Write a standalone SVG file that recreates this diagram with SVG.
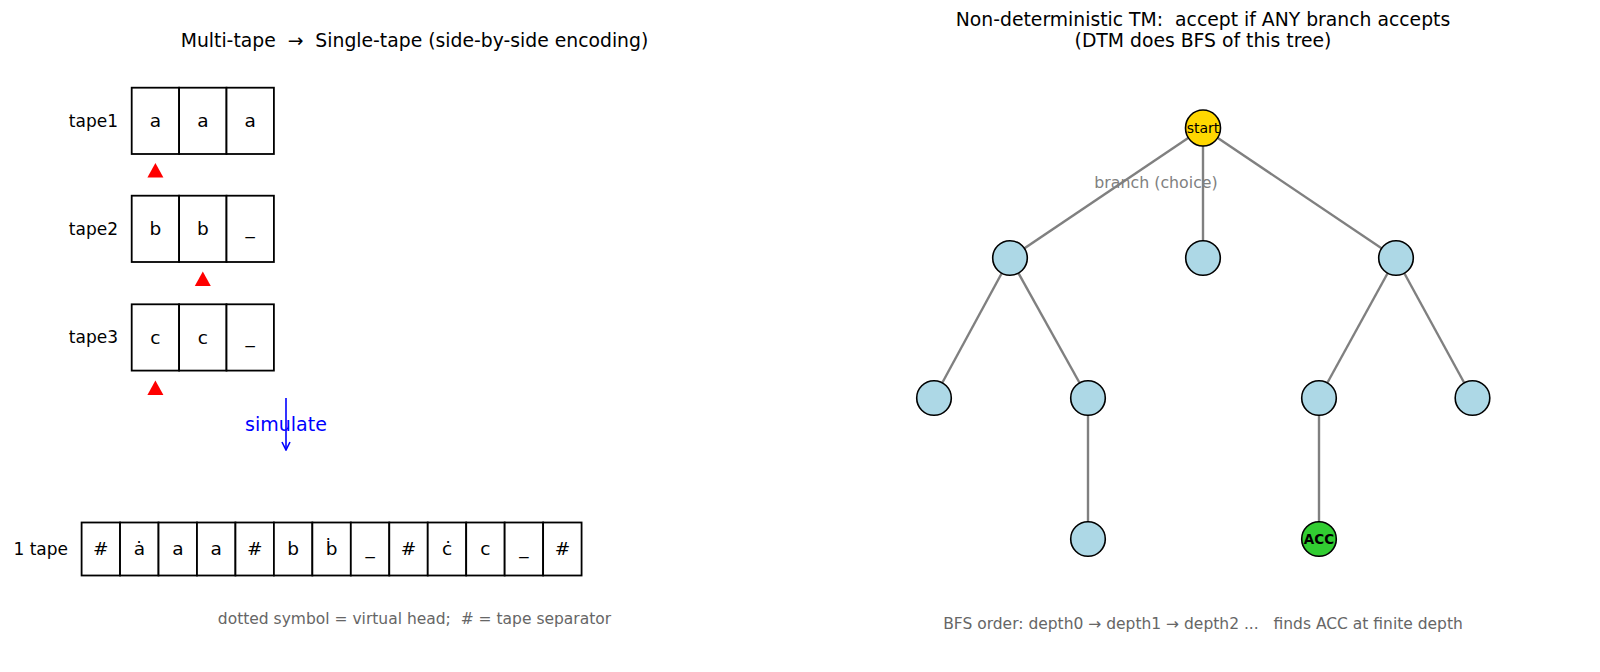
<svg xmlns="http://www.w3.org/2000/svg" width="1600" height="672" viewBox="0 0 1600 672" xml:space="preserve">
<defs>
<style>
text{font-family:"DejaVu Sans","Liberation Sans",sans-serif;white-space:pre;}
.title{font-size:18.8px;fill:#000;text-anchor:middle;}
.lbl{font-size:17px;fill:#000;text-anchor:end;}
.cell{fill:#fff;stroke:#000;stroke-width:1.8;}
.sym{font-size:18.5px;fill:#000;text-anchor:middle;}
.head{fill:#ff0000;}
.note{font-size:15.5px;fill:#666;text-anchor:middle;}
.edge{stroke:#808080;stroke-width:2.4;fill:none;}
.node{fill:#add8e6;stroke:#000;stroke-width:1.6;}
</style>
<marker id="arr" viewBox="0 0 10 10" refX="9" refY="5" markerWidth="10" markerHeight="10" markerUnits="userSpaceOnUse" orient="auto">
<path d="M1,1 L9,5 L1,9" fill="none" stroke="#0000ff" stroke-width="1.6"/>
</marker>
</defs>
<rect width="1600" height="672" fill="#fff"/>
<text class="title" x="414.5" y="47">Multi-tape  →  Single-tape (side-by-side encoding)</text>
<g id="tape1">
<text class="lbl" x="118" y="126.5">tape1</text>
<rect class="cell" x="131.7" y="87.7" width="47.4" height="66.3"/>
<rect class="cell" x="179.1" y="87.7" width="47.4" height="66.3"/>
<rect class="cell" x="226.5" y="87.7" width="47.4" height="66.3"/>
<text class="sym" x="155.4" y="127">a</text>
<text class="sym" x="202.8" y="127">a</text>
<text class="sym" x="250.2" y="127">a</text>
<polygon class="head" points="155.4,163 163.4,177.5 147.4,177.5"/>
</g>
<g id="tape2">
<text class="lbl" x="118" y="234.5">tape2</text>
<rect class="cell" x="131.7" y="195.7" width="47.4" height="66.3"/>
<rect class="cell" x="179.1" y="195.7" width="47.4" height="66.3"/>
<rect class="cell" x="226.5" y="195.7" width="47.4" height="66.3"/>
<text class="sym" x="155.4" y="235">b</text>
<text class="sym" x="202.8" y="235">b</text>
<text class="sym" x="250.2" y="234">_</text>
<polygon class="head" points="202.8,271.5 210.8,286 194.8,286"/>
</g>
<g id="tape3">
<text class="lbl" x="118" y="343">tape3</text>
<rect class="cell" x="131.7" y="304.3" width="47.4" height="66.3"/>
<rect class="cell" x="179.1" y="304.3" width="47.4" height="66.3"/>
<rect class="cell" x="226.5" y="304.3" width="47.4" height="66.3"/>
<text class="sym" x="155.4" y="343.5">c</text>
<text class="sym" x="202.8" y="343.5">c</text>
<text class="sym" x="250.2" y="342.5">_</text>
<polygon class="head" points="155.4,380.5 163.4,395 147.4,395"/>
</g>
<g id="simulate">
<line x1="286" y1="398" x2="286" y2="450" stroke="#0000ff" stroke-width="1.6" marker-end="url(#arr)"/>
<text x="286" y="431" font-size="19" fill="#0000ff" text-anchor="middle">simulate</text>
</g>
<g id="singletape">
<text class="lbl" x="68" y="555">1 tape</text>
<rect class="cell" x="81.6" y="522.5" width="38.46" height="53"/>
<rect class="cell" x="120.06" y="522.5" width="38.46" height="53"/>
<rect class="cell" x="158.52" y="522.5" width="38.46" height="53"/>
<rect class="cell" x="196.98" y="522.5" width="38.46" height="53"/>
<rect class="cell" x="235.44" y="522.5" width="38.46" height="53"/>
<rect class="cell" x="273.9" y="522.5" width="38.46" height="53"/>
<rect class="cell" x="312.36" y="522.5" width="38.46" height="53"/>
<rect class="cell" x="350.82" y="522.5" width="38.46" height="53"/>
<rect class="cell" x="389.28" y="522.5" width="38.46" height="53"/>
<rect class="cell" x="427.74" y="522.5" width="38.46" height="53"/>
<rect class="cell" x="466.2" y="522.5" width="38.46" height="53"/>
<rect class="cell" x="504.66" y="522.5" width="38.46" height="53"/>
<rect class="cell" x="543.12" y="522.5" width="38.46" height="53"/>
<text class="sym" x="100.8" y="555">#</text>
<text class="sym" x="139.3" y="555">ȧ</text>
<text class="sym" x="177.8" y="555">a</text>
<text class="sym" x="216.2" y="555">a</text>
<text class="sym" x="254.7" y="555">#</text>
<text class="sym" x="293.1" y="555">b</text>
<text class="sym" x="331.6" y="555">ḃ</text>
<text class="sym" x="370" y="554">_</text>
<text class="sym" x="408.5" y="555">#</text>
<text class="sym" x="447" y="555">ċ</text>
<text class="sym" x="485.4" y="555">c</text>
<text class="sym" x="523.9" y="554">_</text>
<text class="sym" x="562.4" y="555">#</text>
</g>
<text class="note" x="414.5" y="624">dotted symbol = virtual head;  # = tape separator</text>
<text class="title" x="1203" y="26">Non-deterministic TM:  accept if ANY branch accepts</text>
<text class="title" x="1203" y="47">(DTM does BFS of this tree)</text>
<g id="edges">
<line class="edge" x1="1203" y1="128" x2="1010" y2="258"/>
<line class="edge" x1="1203" y1="128" x2="1203" y2="258"/>
<line class="edge" x1="1203" y1="128" x2="1396" y2="258"/>
<line class="edge" x1="1010" y1="258" x2="934" y2="398"/>
<line class="edge" x1="1010" y1="258" x2="1088" y2="398"/>
<line class="edge" x1="1396" y1="258" x2="1319" y2="398"/>
<line class="edge" x1="1396" y1="258" x2="1472.5" y2="398"/>
<line class="edge" x1="1088" y1="398" x2="1088" y2="539"/>
<line class="edge" x1="1319" y1="398" x2="1319" y2="539"/>
</g>
<text x="1156" y="188" font-size="15.8" fill="#808080" text-anchor="middle">branch (choice)</text>
<g id="n_start"><ellipse cx="1203" cy="128" rx="17.5" ry="18" fill="#ffd700" stroke="#000" stroke-width="1.6"/><text x="1203" y="132.5" font-size="14" text-anchor="middle" fill="#000">start</text></g>
<g id="n_1a"><ellipse class="node" cx="1010" cy="258" rx="17.3" ry="17.3"/></g>
<g id="n_1b"><ellipse class="node" cx="1203" cy="258" rx="17.3" ry="17.3"/></g>
<g id="n_1c"><ellipse class="node" cx="1396" cy="258" rx="17.3" ry="17.3"/></g>
<g id="n_2a"><ellipse class="node" cx="934" cy="398" rx="17.3" ry="17.3"/></g>
<g id="n_2b"><ellipse class="node" cx="1088" cy="398" rx="17.3" ry="17.3"/></g>
<g id="n_2c"><ellipse class="node" cx="1319" cy="398" rx="17.3" ry="17.3"/></g>
<g id="n_2d"><ellipse class="node" cx="1472.5" cy="398" rx="17.3" ry="17.3"/></g>
<g id="n_3a"><ellipse class="node" cx="1088" cy="539" rx="17.3" ry="17.3"/></g>
<g id="n_acc"><ellipse cx="1319" cy="539" rx="17.3" ry="17.3" fill="#32cd32" stroke="#000" stroke-width="1.6"/><text x="1319" y="544" font-size="13.5" font-weight="bold" text-anchor="middle" fill="#000">ACC</text></g>
<text class="note" x="1203" y="629">BFS order: depth0 → depth1 → depth2 ...   finds ACC at finite depth</text>
</svg>
